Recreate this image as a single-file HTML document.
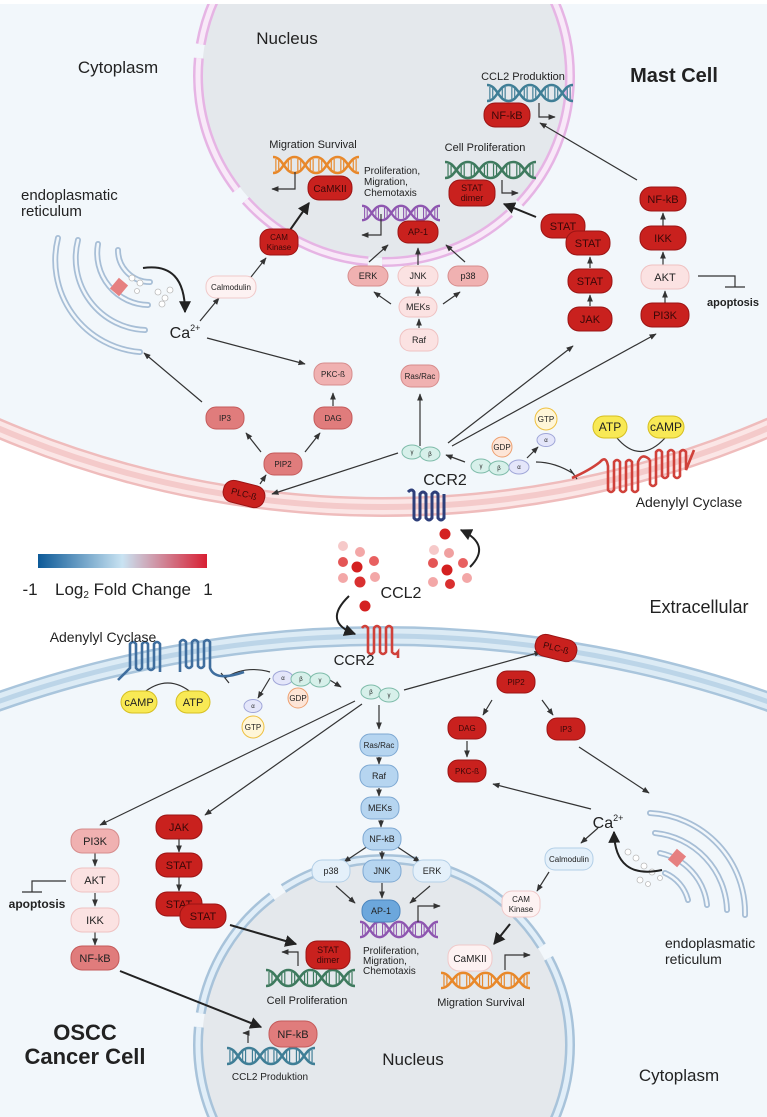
<!DOCTYPE html>
<html><head><meta charset="utf-8">
<style>
html,body{margin:0;padding:0;background:#fff;width:767px;height:1117px;overflow:hidden;}
#w{position:relative;width:767px;height:1117px;overflow:hidden;}
svg{display:block;overflow:hidden;font-family:"Liberation Sans",Arial,sans-serif;}
text{fill:#222;text-anchor:middle;}
.dr rect{fill:#c9211e;stroke:#9b1414;stroke-width:1}
.dr text{fill:#3a0808}
.mr rect{fill:#e07c7c;stroke:#c45a5a;stroke-width:1}
.lm rect{fill:#f0b1b1;stroke:#d68c8c;stroke-width:1}
.lt rect{fill:#fbe2e2;stroke:#efc1c1;stroke-width:1}
.vl rect{fill:#fdf2f2;stroke:#f0c9c9;stroke-width:1}
.bl rect{fill:#b6d5f0;stroke:#7da8d2;stroke-width:1}
.bd rect{fill:#6ca7dc;stroke:#4a85be;stroke-width:1}
.bv rect{fill:#e4f0fa;stroke:#b3cfe7;stroke-width:1}
.ln{stroke:#333;stroke-width:1.2;fill:none}
.lnb{stroke:#222;stroke-width:2;fill:none}
</style></head><body><div id="w">
<svg width="767" height="1117" viewBox="0 0 767 1117" xmlns="http://www.w3.org/2000/svg">
<defs>
<clipPath id="cp"><rect x="0" y="0" width="767" height="1117"/></clipPath>
<marker id="a" viewBox="0 0 10 10" refX="9" refY="5" markerWidth="6" markerHeight="6" orient="auto"><path d="M0,1 L10,5 L0,9 z" fill="#333"/></marker>
<marker id="ab" viewBox="0 0 10 10" refX="9" refY="5" markerWidth="6" markerHeight="6" orient="auto"><path d="M0,0 L10,5 L0,10 z" fill="#222"/></marker>
<linearGradient id="g" x1="0" x2="1"><stop offset="0" stop-color="#0d5a98"/><stop offset="0.5" stop-color="#c9e3f2"/><stop offset="1" stop-color="#d81f33"/></linearGradient>
<symbol id="dna" viewBox="0 0 90 20" preserveAspectRatio="none">
<g stroke="currentColor" fill="none">
<path d="M0,2 C11,2 11.5,18 22.5,18 C33.5,18 34,2 45,2 C56,2 56.5,18 67.5,18 C78.5,18 79,2 90,2" stroke-width="2.6"/>
<path d="M0,18 C11,18 11.5,2 22.5,2 C33.5,2 34,18 45,18 C56,18 56.5,2 67.5,2 C78.5,2 79,18 90,18" stroke-width="2.6"/>
<path d="M3,4V16M6,5V15M16,5V15M19,4V16M26,4V16M29,5V15M39,5V15M42,4V16M48,4V16M51,5V15M61,5V15M64,4V16M71,4V16M74,5V15M84,5V15M87,4V16" stroke-width="1.2"/>
</g></symbol>
</defs>
<g clip-path="url(#cp)">
<circle cx="383" cy="-472" r="979" fill="#f2f7fb"/>
<circle cx="383" cy="1797" r="1161" fill="#f2f7fb"/>
<circle cx="384" cy="76" r="182" fill="#e4e8ec"/>
<circle cx="384" cy="76" r="186" fill="none" stroke="#e6b4e4" stroke-width="10" stroke-dasharray="140 14"/>
<circle cx="384" cy="76" r="186" fill="none" stroke="#f8e9f8" stroke-width="5" stroke-dasharray="140 14"/>
<circle cx="384" cy="1045" r="182" fill="#e4e8ec"/>
<circle cx="384" cy="1045" r="186" fill="none" stroke="#a8c3da" stroke-width="10" stroke-dasharray="140 14"/>
<circle cx="384" cy="1045" r="186" fill="none" stroke="#e1eef8" stroke-width="5" stroke-dasharray="140 14"/>
<circle cx="383" cy="-472" r="979" fill="none" stroke="#efbcbc" stroke-width="20"/>
<circle cx="383" cy="-472" r="979" fill="none" stroke="#fbe6e6" stroke-width="15"/>
<circle cx="383" cy="-472" r="979" fill="none" stroke="#f4caca" stroke-width="6"/>
<circle cx="383" cy="1797" r="1161" fill="none" stroke="#a9c5dc" stroke-width="20"/>
<circle cx="383" cy="1797" r="1161" fill="none" stroke="#dcebf5" stroke-width="15"/>
<circle cx="383" cy="1797" r="1161" fill="none" stroke="#bcd5e8" stroke-width="5"/>
</g>
<rect x="0" y="0" width="767" height="4" fill="#fff"/>

<text x="287" y="44" font-size="17">Nucleus</text>
<text x="118" y="73" font-size="17">Cytoplasm</text>
<text x="674" y="82" font-size="20" font-weight="bold">Mast Cell</text>
<text x="21" y="200" font-size="15" style="text-anchor:start">endoplasmatic</text>
<text x="21" y="216" font-size="15" style="text-anchor:start">reticulum</text>
<text x="699" y="613" font-size="18">Extracellular</text>
<text x="85" y="1040" font-size="22" font-weight="bold">OSCC</text>
<text x="85" y="1064" font-size="22" font-weight="bold">Cancer Cell</text>
<text x="413" y="1065" font-size="17">Nucleus</text>
<text x="679" y="1081" font-size="17">Cytoplasm</text>
<text x="665" y="948" font-size="14" style="text-anchor:start">endoplasmatic</text>
<text x="665" y="964" font-size="14" style="text-anchor:start">reticulum</text>

<g fill="none" stroke-linecap="round">
<g stroke="#a7bed6" stroke-width="6">
<path d="M58,238 A92,92 0 0 0 140,352"/><path d="M78,240 A72,72 0 0 0 145,330"/><path d="M98,244 A52,52 0 0 0 148,305"/><path d="M118,250 A32,32 0 0 0 150,282"/>
</g>
<g stroke="#f2f7fb" stroke-width="2.5">
<path d="M58,238 A92,92 0 0 0 140,352"/><path d="M78,240 A72,72 0 0 0 145,330"/><path d="M98,244 A52,52 0 0 0 148,305"/><path d="M118,250 A32,32 0 0 0 150,282"/>
</g></g>
<rect x="113" y="280" width="12" height="14" fill="#e68080" transform="rotate(40 119 287)"/>
<g fill="#fff" stroke="#bbb" stroke-width="0.8"><circle cx="132" cy="278" r="3"/><circle cx="140" cy="283" r="3"/><circle cx="158" cy="292" r="3"/><circle cx="165" cy="298" r="3"/><circle cx="170" cy="290" r="3"/><circle cx="162" cy="304" r="3"/><circle cx="137" cy="291" r="2.5"/></g>
<path d="M143,268 Q185,262 185,312" class="lnb" marker-end="url(#ab)"/>
<text x="185" y="338" font-size="16">Ca<tspan font-size="9" dy="-7">2+</tspan></text>

<g fill="none" stroke-linecap="round">
<g stroke="#a7bed6" stroke-width="6">
<path d="M650,813 A100,100 0 0 1 745,915"/><path d="M655,833 A80,80 0 0 1 727,910"/><path d="M660,853 A60,60 0 0 1 707,905"/><path d="M665,873 A40,40 0 0 1 688,900"/>
</g>
<g stroke="#f2f7fb" stroke-width="2.5">
<path d="M650,813 A100,100 0 0 1 745,915"/><path d="M655,833 A80,80 0 0 1 727,910"/><path d="M660,853 A60,60 0 0 1 707,905"/><path d="M665,873 A40,40 0 0 1 688,900"/>
</g></g>
<rect x="671" y="851" width="12" height="14" fill="#e68080" transform="rotate(40 677 858)"/>
<g fill="#fff" stroke="#bbb" stroke-width="0.8"><circle cx="628" cy="852" r="3"/><circle cx="636" cy="858" r="3"/><circle cx="644" cy="866" r="3"/><circle cx="652" cy="872" r="3"/><circle cx="660" cy="878" r="2.5"/><circle cx="640" cy="880" r="3"/><circle cx="648" cy="884" r="2.5"/></g>
<path d="M662,870 Q615,880 614,832" class="lnb" marker-end="url(#ab)"/>
<text x="608" y="828" font-size="16">Ca<tspan font-size="9" dy="-7">2+</tspan></text>

<use href="#dna" x="487" y="83" width="86" height="20" style="color:#3f7e96"/>
<text x="523" y="80" font-size="11">CCL2 Produktion</text>
<use href="#dna" x="445" y="160" width="91" height="20" style="color:#3e7a5e"/>
<text x="485" y="151" font-size="11">Cell Proliferation</text>
<use href="#dna" x="273" y="155" width="86" height="20" style="color:#e8882a"/>
<text x="313" y="148" font-size="11">Migration Survival</text>
<use href="#dna" x="362" y="204" width="78" height="18" style="color:#8e56b0"/>
<g font-size="10"><text x="364" y="174" style="text-anchor:start">Proliferation,</text><text x="364" y="185" style="text-anchor:start">Migration,</text><text x="364" y="196" style="text-anchor:start">Chemotaxis</text></g>
<path d="M539,103 V117 H555" class="ln" marker-end="url(#a)"/>
<path d="M502,180 V193 H518" class="ln" marker-end="url(#a)"/>
<path d="M295,172 V189 H272" class="ln" marker-end="url(#a)"/>
<path d="M381,214 V235 H362" class="ln" marker-end="url(#a)"/>

<use href="#dna" x="266" y="968" width="89" height="20" style="color:#3e7a5e"/>
<text x="307" y="1004" font-size="11">Cell Proliferation</text>
<use href="#dna" x="227" y="1046" width="88" height="20" style="color:#3f7e96"/>
<text x="270" y="1080" font-size="10">CCL2 Produktion</text>
<use href="#dna" x="360" y="920" width="78" height="19" style="color:#8e56b0"/>
<g font-size="10"><text x="363" y="954" style="text-anchor:start">Proliferation,</text><text x="363" y="964" style="text-anchor:start">Migration,</text><text x="363" y="974" style="text-anchor:start">Chemotaxis</text></g>
<use href="#dna" x="441" y="971" width="89" height="19" style="color:#e8882a"/>
<text x="481" y="1006" font-size="11">Migration Survival</text>
<path d="M298,966 V952 H282" class="ln" marker-end="url(#a)"/>
<path d="M248,1043 V1033 H243" class="ln" marker-end="url(#a)"/>
<path d="M418,922 V906 H440" class="ln" marker-end="url(#a)"/>
<path d="M505,970 V955 H530" class="ln" marker-end="url(#a)"/>

<g class="ln" marker-end="url(#a)">
<path d="M637,180 L540,123"/>
<path d="M398,453 L272,494"/>
<path d="M420,446 V394"/>
<path d="M448,443 L573,346"/>
<path d="M452,446 L656,334"/>
<path d="M207,338 L305,364"/>
<path d="M202,402 L144,353"/>
<path d="M200,321 L219,298"/>
<path d="M251,277 L266,258"/>
<path d="M333,406 V393"/>
<path d="M261,452 L246,433"/>
<path d="M305,452 L320,433"/>
<path d="M260,484 L266,475"/>
<path d="M419,328 V319"/>
<path d="M391,304 L374,292"/>
<path d="M443,304 L460,292"/>
<path d="M418,296 V287"/>
<path d="M369,262 L388,245"/>
<path d="M418,265 V248"/>
<path d="M465,262 L446,245"/>
<path d="M590,306 V295"/>
<path d="M590,268 V257"/>
<path d="M663,226 V213"/>
<path d="M663,265 V252"/>
<path d="M665,303 V291"/>
<path d="M465,462 L446,455"/>
<path d="M527,458 L538,447"/>
</g>
<path d="M290,230 L309,203" class="lnb" stroke-width="2.4" marker-end="url(#ab)"/>
<path d="M536,217 L504,204" class="lnb" marker-end="url(#ab)"/>
<path d="M698,276 H735 V287 M725,287 H745" class="ln"/>
<text x="733" y="306" font-size="11" font-weight="bold">apoptosis</text>
<path d="M536,462 Q555,462 574,474 M570,469 L577,479" class="ln"/>

<g class="ln" marker-end="url(#a)">
<path d="M404,690 L541,652"/>
<path d="M355,701 L100,825"/>
<path d="M362,704 L205,815"/>
<path d="M379,705 V729"/>
<path d="M379,757 V764"/>
<path d="M379,788 V796"/>
<path d="M381,820 V827"/>
<path d="M382,851 V859"/>
<path d="M368,846 L344,862"/>
<path d="M396,846 L420,862"/>
<path d="M382,883 V898"/>
<path d="M336,886 L355,903"/>
<path d="M430,886 L410,903"/>
<path d="M492,700 L483,715"/>
<path d="M542,700 L553,715"/>
<path d="M467,741 V757"/>
<path d="M579,747 L649,793"/>
<path d="M591,809 L493,784"/>
<path d="M598,828 L581,843"/>
<path d="M549,872 L537,891"/>
<path d="M95,853 V866"/>
<path d="M95,893 V906"/>
<path d="M95,932 V945"/>
<path d="M179,839 V852"/>
<path d="M179,877 V891"/>
<path d="M325,677 L341,687"/>
<path d="M270,678 L258,698"/>
</g>
<path d="M510,924 L494,944" class="lnb" stroke-width="2.4" marker-end="url(#ab)"/>
<path d="M230,925 L296,944" class="lnb" marker-end="url(#ab)"/>
<path d="M120,971 L261,1027" class="lnb" marker-end="url(#ab)"/>
<path d="M66,881 H32 V892 M22,892 H42" class="ln"/>
<text x="37" y="908" font-size="12" font-weight="bold">apoptosis</text>
<path d="M270,672 Q245,665 225,678 M221,673 L229,683" class="ln"/>

<g fill="none" stroke="#2e3f7a" stroke-width="3" transform="translate(408,492)">
<path d="M0,0 Q4,-4 6,0 V26 Q9,30 12,26 V2 Q15,-2 18,2 V26 Q21,30 24,26 V2 Q27,-2 30,2 V26 Q33,30 36,26 V2" />
</g>
<text x="445" y="485" font-size="16">CCR2</text>
<g fill="none" stroke="#d0413a" stroke-width="2.6">
<path d="M572,478 Q590,470 600,462 Q606,455 608,466 V490 Q611,494 614,490 V462 Q617,458 620,462 V490 Q623,494 626,490 V462 Q629,458 632,462 V490 Q635,494 638,490 V462 Q642,452 650,460"/>
<path d="M650,460 V484 Q653,488 656,484 V452 Q659,448 662,452 V476 Q665,480 668,476 V452 Q671,448 674,452 V476 Q677,480 680,476 V452 Q683,448 686,452 V470 Q690,460 694,450"/>
</g>
<path d="M617,438 Q640,465 665,438" stroke="#333" stroke-width="1.2" fill="none"/>
<text x="689" y="507" font-size="14">Adenylyl Cyclase</text>

<g fill="none" stroke="#d0413a" stroke-width="2.6" transform="translate(362,626)">
<path d="M0,2 Q3,-2 6,2 V26 Q9,30 12,26 V2 Q15,-2 18,2 V26 Q21,30 24,26 V2 Q27,-2 30,2 V26 Q33,30 36,26 V32"/>
</g>
<text x="354" y="665" font-size="15">CCR2</text>
<g fill="none" stroke="#3f6e9e" stroke-width="2.6">
<path d="M118,680 Q126,672 130,668 V644 Q133,640 136,644 V668 Q139,672 142,668 V644 Q145,640 148,644 V668 Q151,672 154,668 V644 Q157,640 160,644 V672"/>
<path d="M180,672 V642 Q183,638 186,642 V666 Q189,670 192,666 V642 Q195,638 198,642 V666 Q201,670 204,666 V642 Q207,638 210,642 V668 Q215,682 244,672"/>
</g>
<path d="M142,694 Q168,672 193,694" stroke="#333" stroke-width="1.2" fill="none"/>
<text x="103" y="642" font-size="14">Adenylyl Cyclase</text>

<g>
<circle cx="343" cy="546" r="5" fill="#f6c9c9"/><circle cx="360" cy="552" r="5" fill="#f3a7a7"/><circle cx="343" cy="562" r="5" fill="#e45555"/><circle cx="357" cy="567" r="5.5" fill="#d42020"/><circle cx="374" cy="561" r="5" fill="#e86060"/><circle cx="343" cy="578" r="5" fill="#f3a7a7"/><circle cx="360" cy="582" r="5.5" fill="#d93030"/><circle cx="375" cy="577" r="5" fill="#f3a7a7"/>
<circle cx="445" cy="534" r="5.5" fill="#d42020"/><circle cx="434" cy="550" r="5" fill="#f6c9c9"/><circle cx="449" cy="553" r="5" fill="#f0a0a0"/><circle cx="433" cy="563" r="5" fill="#e45555"/><circle cx="447" cy="570" r="5.5" fill="#d42020"/><circle cx="463" cy="563" r="5" fill="#e86060"/><circle cx="433" cy="582" r="5" fill="#f3a7a7"/><circle cx="450" cy="584" r="5" fill="#d93030"/><circle cx="467" cy="578" r="5" fill="#f3a7a7"/>
<circle cx="365" cy="606" r="5.5" fill="#d42020"/>
</g>
<text x="401" y="598" font-size="16">CCL2</text>
<path d="M470,567 Q492,545 461,530" class="lnb" stroke-width="1.5" marker-end="url(#ab)"/>
<path d="M349,596 Q322,622 355,634" class="lnb" stroke-width="1.5" marker-end="url(#ab)"/>

<rect x="38" y="554" width="169" height="14" fill="url(#g)"/>
<text x="30" y="595" font-size="17">-1</text>
<text x="123" y="595" font-size="17">Log<tspan font-size="10" dy="3">2</tspan><tspan dy="-3"> Fold Change</tspan></text>
<text x="208" y="595" font-size="17">1</text>

<g stroke-width="1">
<ellipse cx="412" cy="452" rx="10" ry="7" fill="#d7f0ea" stroke="#7fbcaa"/><ellipse cx="430" cy="454" rx="10" ry="7" fill="#d7f0ea" stroke="#7fbcaa"/>
<circle cx="502" cy="447" r="10" fill="#fde5d7" stroke="#eea070"/>
<ellipse cx="481" cy="466" rx="10" ry="7" fill="#d7f0ea" stroke="#7fbcaa"/><ellipse cx="499" cy="468" rx="10" ry="7" fill="#d7f0ea" stroke="#7fbcaa"/><ellipse cx="519" cy="467" rx="10" ry="7" fill="#e4e6fa" stroke="#a0a6d8"/>
<circle cx="546" cy="419" r="11" fill="#fff6d8" stroke="#eec040"/><ellipse cx="546" cy="440" rx="9" ry="6.5" fill="#e4e6fa" stroke="#a0a6d8"/>
<rect x="593" y="416" width="34" height="22" rx="11" fill="#f8e955" stroke="#d6bf20"/><rect x="648" y="416" width="36" height="22" rx="11" fill="#f8e955" stroke="#d6bf20"/>
</g>
<g font-size="6"><text x="412" y="454">γ</text><text x="430" y="456">β</text><text x="481" y="468">γ</text><text x="499" y="470">β</text><text x="519" y="469">α</text><text x="546" y="442">α</text></g>
<text x="502" y="450" font-size="8">GDP</text><text x="546" y="422" font-size="8">GTP</text>
<text x="610" y="431" font-size="12">ATP</text><text x="666" y="431" font-size="12">cAMP</text>

<g stroke-width="1">
<ellipse cx="283" cy="678" rx="10" ry="7" fill="#e4e6fa" stroke="#a0a6d8"/><ellipse cx="301" cy="679" rx="10" ry="7" fill="#d7f0ea" stroke="#7fbcaa"/><ellipse cx="320" cy="680" rx="10" ry="7" fill="#d7f0ea" stroke="#7fbcaa"/>
<circle cx="298" cy="698" r="10" fill="#fde5d7" stroke="#eea070"/>
<ellipse cx="253" cy="706" rx="9" ry="6.5" fill="#e4e6fa" stroke="#a0a6d8"/><circle cx="253" cy="727" r="11" fill="#fff6d8" stroke="#eec040"/>
<ellipse cx="371" cy="692" rx="10" ry="7" fill="#d7f0ea" stroke="#7fbcaa"/><ellipse cx="389" cy="695" rx="10" ry="7" fill="#d7f0ea" stroke="#7fbcaa"/>
<rect x="121" y="691" width="36" height="22" rx="11" fill="#f8e955" stroke="#d6bf20"/><rect x="176" y="691" width="34" height="22" rx="11" fill="#f8e955" stroke="#d6bf20"/>
</g>
<g font-size="6"><text x="283" y="680">α</text><text x="301" y="681">β</text><text x="320" y="682">γ</text><text x="253" y="708">α</text><text x="371" y="694">β</text><text x="389" y="697">γ</text></g>
<text x="298" y="701" font-size="8">GDP</text><text x="253" y="730" font-size="8">GTP</text>
<text x="139" y="706" font-size="11">cAMP</text><text x="193" y="706" font-size="11">ATP</text>

<g font-size="11">
<g class="dr" transform="translate(507,115)"><rect x="-23" y="-12" width="46" height="24" rx="11"/><text y="4">NF-kB</text></g>
<g class="dr" transform="translate(472,193)"><rect x="-23" y="-13" width="46" height="26" rx="11"/><text y="-2" font-size="9">STAT</text><text y="8" font-size="9">dimer</text></g>
<g class="dr" transform="translate(330,188)"><rect x="-22" y="-12" width="44" height="24" rx="11"/><text y="4" font-size="10">CaMKII</text></g>
<g class="dr" transform="translate(418,232)"><rect x="-20" y="-11" width="40" height="22" rx="10"/><text y="3" font-size="9">AP-1</text></g>
<g class="dr" transform="translate(279,242)"><rect x="-19" y="-13" width="38" height="26" rx="10"/><text y="-2" font-size="8">CAM</text><text y="8" font-size="8">Kinase</text></g>
<g class="vl" transform="translate(231,287)"><rect x="-25" y="-11" width="50" height="22" rx="10"/><text y="3" font-size="8">Calmodulin</text></g>
<g class="lm" transform="translate(368,276)"><rect x="-20" y="-10" width="40" height="20" rx="10"/><text y="3" font-size="9">ERK</text></g>
<g class="lt" transform="translate(418,276)"><rect x="-20" y="-10" width="40" height="20" rx="10"/><text y="3" font-size="9">JNK</text></g>
<g class="lm" transform="translate(468,276)"><rect x="-20" y="-10" width="40" height="20" rx="10"/><text y="3" font-size="9">p38</text></g>
<g class="lt" transform="translate(418,307)"><rect x="-19" y="-10" width="38" height="20" rx="10"/><text y="3" font-size="9">MEKs</text></g>
<g class="lt" transform="translate(419,340)"><rect x="-19" y="-11" width="38" height="22" rx="10"/><text y="3" font-size="9">Raf</text></g>
<g class="lm" transform="translate(420,376)"><rect x="-19" y="-11" width="38" height="22" rx="10"/><text y="3" font-size="8">Ras/Rac</text></g>
<g class="lm" transform="translate(333,374)"><rect x="-19" y="-11" width="38" height="22" rx="10"/><text y="3" font-size="8">PKC-ß</text></g>
<g class="mr" transform="translate(225,418)"><rect x="-19" y="-11" width="38" height="22" rx="10"/><text y="3" font-size="8">IP3</text></g>
<g class="mr" transform="translate(333,418)"><rect x="-19" y="-11" width="38" height="22" rx="10"/><text y="3" font-size="8">DAG</text></g>
<g class="mr" transform="translate(283,464)"><rect x="-19" y="-11" width="38" height="22" rx="10"/><text y="3" font-size="8">PIP2</text></g>
<g class="dr" transform="translate(244,494) rotate(14)"><rect x="-21" y="-11" width="42" height="22" rx="10"/><text y="3" font-size="9">PLC-ß</text></g>
<g class="dr" transform="translate(563,226)"><rect x="-22" y="-12" width="44" height="24" rx="11"/><text y="4">STAT</text></g>
<g class="dr" transform="translate(588,243)"><rect x="-22" y="-12" width="44" height="24" rx="11"/><text y="4">STAT</text></g>
<g class="dr" transform="translate(590,281)"><rect x="-22" y="-12" width="44" height="24" rx="11"/><text y="4">STAT</text></g>
<g class="dr" transform="translate(590,319)"><rect x="-22" y="-12" width="44" height="24" rx="11"/><text y="4">JAK</text></g>
<g class="dr" transform="translate(663,199)"><rect x="-23" y="-12" width="46" height="24" rx="11"/><text y="4">NF-kB</text></g>
<g class="dr" transform="translate(663,238)"><rect x="-23" y="-12" width="46" height="24" rx="11"/><text y="4">IKK</text></g>
<g class="lt" transform="translate(665,277)"><rect x="-24" y="-12" width="48" height="24" rx="11"/><text y="4">AKT</text></g>
<g class="dr" transform="translate(665,315)"><rect x="-24" y="-12" width="48" height="24" rx="11"/><text y="4">PI3K</text></g>
</g>

<g font-size="11">
<g class="dr" transform="translate(556,648) rotate(14)"><rect x="-21" y="-11" width="42" height="22" rx="10"/><text y="3" font-size="9">PLC-ß</text></g>
<g class="dr" transform="translate(516,682)"><rect x="-19" y="-11" width="38" height="22" rx="10"/><text y="3" font-size="8">PIP2</text></g>
<g class="dr" transform="translate(467,728)"><rect x="-19" y="-11" width="38" height="22" rx="10"/><text y="3" font-size="8">DAG</text></g>
<g class="dr" transform="translate(566,729)"><rect x="-19" y="-11" width="38" height="22" rx="10"/><text y="3" font-size="8">IP3</text></g>
<g class="dr" transform="translate(467,771)"><rect x="-19" y="-11" width="38" height="22" rx="10"/><text y="3" font-size="8">PKC-ß</text></g>
<g class="bl" transform="translate(379,745)"><rect x="-19" y="-11" width="38" height="22" rx="10"/><text y="3" font-size="8">Ras/Rac</text></g>
<g class="bl" transform="translate(379,776)"><rect x="-19" y="-11" width="38" height="22" rx="10"/><text y="3" font-size="9">Raf</text></g>
<g class="bl" transform="translate(380,808)"><rect x="-19" y="-11" width="38" height="22" rx="10"/><text y="3" font-size="9">MEKs</text></g>
<g class="bl" transform="translate(382,839)"><rect x="-19" y="-11" width="38" height="22" rx="10"/><text y="3" font-size="9">NF-kB</text></g>
<g class="bv" transform="translate(331,871)"><rect x="-19" y="-11" width="38" height="22" rx="10"/><text y="3" font-size="9">p38</text></g>
<g class="bl" transform="translate(382,871)"><rect x="-19" y="-11" width="38" height="22" rx="10"/><text y="3" font-size="9">JNK</text></g>
<g class="bv" transform="translate(432,871)"><rect x="-19" y="-11" width="38" height="22" rx="10"/><text y="3" font-size="9">ERK</text></g>
<g class="bd" transform="translate(381,911)"><rect x="-19" y="-11" width="38" height="22" rx="10"/><text y="3" font-size="9">AP-1</text></g>
<g class="bv" transform="translate(569,859)"><rect x="-24" y="-11" width="48" height="22" rx="10"/><text y="3" font-size="8">Calmodulin</text></g>
<g class="vl" transform="translate(521,904)"><rect x="-19" y="-13" width="38" height="26" rx="10"/><text y="-2" font-size="8">CAM</text><text y="8" font-size="8">Kinase</text></g>
<g class="vl" transform="translate(470,958)"><rect x="-22" y="-13" width="44" height="26" rx="11"/><text y="4" font-size="10">CaMKII</text></g>
<g class="dr" transform="translate(328,955)"><rect x="-22" y="-14" width="44" height="28" rx="11"/><text y="-2" font-size="9">STAT</text><text y="8" font-size="9">dimer</text></g>
<g class="mr" transform="translate(293,1034)"><rect x="-24" y="-13" width="48" height="26" rx="12"/><text y="4">NF-kB</text></g>
<g class="lm" transform="translate(95,841)"><rect x="-24" y="-12" width="48" height="24" rx="11"/><text y="4">PI3K</text></g>
<g class="lt" transform="translate(95,880)"><rect x="-24" y="-12" width="48" height="24" rx="11"/><text y="4">AKT</text></g>
<g class="lt" transform="translate(95,920)"><rect x="-24" y="-12" width="48" height="24" rx="11"/><text y="4">IKK</text></g>
<g class="mr" transform="translate(95,958)"><rect x="-24" y="-12" width="48" height="24" rx="11"/><text y="4">NF-kB</text></g>
<g class="dr" transform="translate(179,827)"><rect x="-23" y="-12" width="46" height="24" rx="11"/><text y="4">JAK</text></g>
<g class="dr" transform="translate(179,865)"><rect x="-23" y="-12" width="46" height="24" rx="11"/><text y="4">STAT</text></g>
<g class="dr" transform="translate(179,904)"><rect x="-23" y="-12" width="46" height="24" rx="11"/><text y="4">STAT</text></g>
<g class="dr" transform="translate(203,916)"><rect x="-23" y="-12" width="46" height="24" rx="11"/><text y="4">STAT</text></g>
</g>
</svg>
</div>
</body></html>
